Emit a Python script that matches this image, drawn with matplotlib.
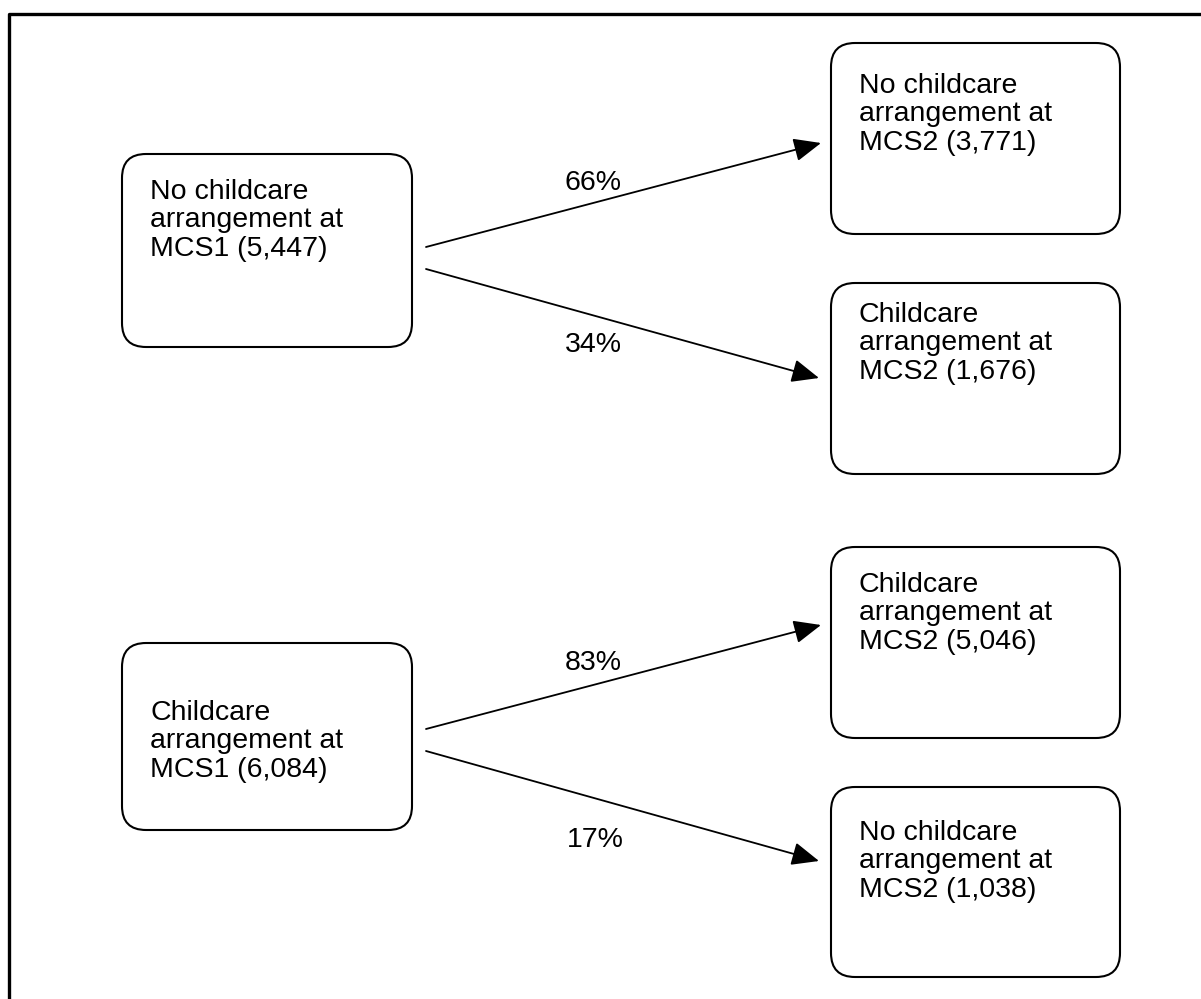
import matplotlib
matplotlib.use("Agg")
import matplotlib.pyplot as plt
from matplotlib.patches import FancyBboxPatch

plt.rcParams['font.family'] = ['Liberation Sans', 'DejaVu Sans']

# box labels (left = MCS1, right = MCS2)
box_labels = [
    "No childcare\narrangement at\nMCS1 (5,447)",
    "No childcare\narrangement at\nMCS2 (3,771)",
    "Childcare\narrangement at\nMCS2 (1,676)",
    "Childcare\narrangement at\nMCS1 (6,084)",
    "Childcare\narrangement at\nMCS2 (5,046)",
    "No childcare\narrangement at\nMCS2 (1,038)",
]
# transition percentages
pct_labels = ["66%", "34%", "83%", "17%"]

# layout in pixel units (x0, y0, x1, y1), y downwards
box_pos = [
    (122, 154, 412, 347),
    (831, 43, 1120, 234),
    (831, 283, 1120, 474),
    (122, 643, 412, 830),
    (831, 547, 1120, 738),
    (831, 787, 1120, 977),
]
text_top = [179, 73, 302, 700, 572, 820]
arrows = [
    ((426, 247), (821, 143)),
    ((426, 269), (819, 378)),
    ((426, 729), (821, 625)),
    ((426, 751), (819, 861)),
]
pct_pos = [(593, 183), (593, 345), (593, 663), (595, 840)]

W, H = 1201, 999
fig = plt.figure(figsize=(W / 100, H / 100), dpi=100)
ax = fig.add_axes([0, 0, 1, 1])
ax.set_xlim(0, W)
ax.set_ylim(H, 0)
ax.axis('off')

# outer frame
ax.plot([8.5, 8.5, W + 10], [H + 10, 13.5, 13.5], color='black', lw=2.4,
        solid_capstyle='projecting')

for (x0, y0, x1, y1), lab, ty in zip(box_pos, box_labels, text_top):
    ax.add_patch(FancyBboxPatch((x0, y0), x1 - x0, y1 - y0,
                                boxstyle="round,pad=0,rounding_size=24",
                                fc='white', ec='black', lw=1.5))
    ax.text(x0 + 28, ty, lab, fontsize=20.5, ha='left', va='top',
            linespacing=1.12)

for (s, e) in arrows:
    ax.annotate('', xy=e, xytext=s,
                arrowprops=dict(arrowstyle='-|>,head_length=0.7,head_width=0.3',
                                color='black', lw=1.3, mutation_scale=24,
                                shrinkA=0, shrinkB=0))

for (px, py), lab in zip(pct_pos, pct_labels):
    ax.text(px, py, lab, fontsize=20.5, ha='center', va='center')

fig.savefig('out.png', dpi=100)
